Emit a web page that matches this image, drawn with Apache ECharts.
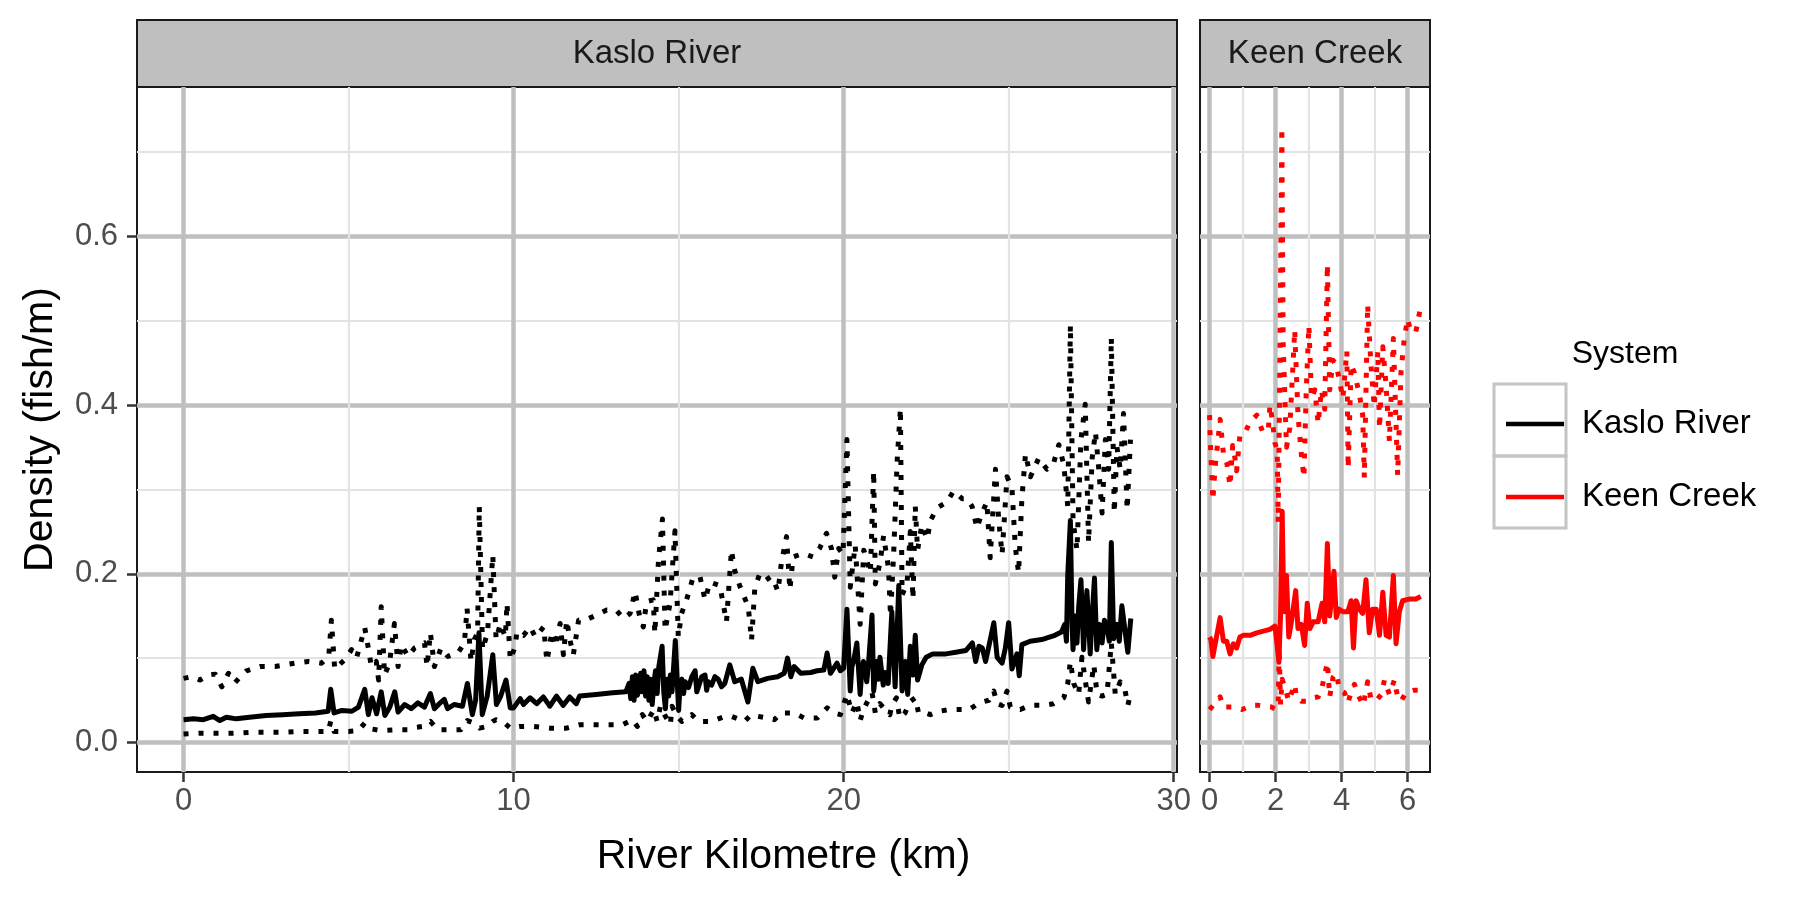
<!DOCTYPE html>
<html>
<head>
<meta charset="utf-8">
<script src="https://cdn.jsdelivr.net/npm/echarts@6/dist/echarts.min.js"></script>
<style>
html,body{margin:0;padding:0;background:#fff;}
#chart{width:1799px;height:899px;}
</style>
</head>
<body>
<div id="chart"></div>
<script>
// ---- data: [river km, density (fish/m)] ----
const panels = ['Kaslo River', 'Keen Creek'];
const kasloXTicks = [0, 10, 20, 30];
const kasloXMinor = [5, 15, 25];
const keenXTicks = [0, 2, 4, 6];
const keenXMinor = [1, 3, 5];
const yTicks = [0, 0.2, 0.4, 0.6];
const yMinor = [0.1, 0.3, 0.5, 0.7];

const kasloMedian = [[0,0.027],[0.3,0.028],[0.6,0.027],[0.9,0.031],[1.1,0.026],[1.3,0.030],[1.6,0.028],[2.0,0.030],[2.5,0.032],[3.0,0.033],[3.5,0.034],[4.0,0.035],[4.38,0.037],[4.46,0.063],[4.56,0.035],[4.8,0.038],[5.1,0.037],[5.3,0.042],[5.49,0.063],[5.6,0.033],[5.71,0.053],[5.85,0.034],[5.99,0.060],[6.1,0.032],[6.25,0.042],[6.4,0.060],[6.5,0.036],[6.7,0.045],[6.9,0.040],[7.1,0.047],[7.3,0.042],[7.48,0.058],[7.6,0.040],[7.75,0.046],[7.9,0.051],[8.0,0.040],[8.2,0.045],[8.45,0.043],[8.6,0.070],[8.75,0.033],[8.85,0.050],[8.95,0.130],[9.05,0.033],[9.2,0.055],[9.37,0.104],[9.48,0.045],[9.6,0.054],[9.77,0.074],[9.9,0.041],[10.0,0.041],[10.2,0.052],[10.3,0.045],[10.5,0.053],[10.7,0.046],[10.9,0.054],[11.1,0.043],[11.3,0.055],[11.5,0.044],[11.7,0.054],[11.9,0.046],[12.0,0.055],[12.5,0.057],[13.0,0.059],[13.4,0.060],[13.5,0.070],[13.55,0.052],[13.6,0.078],[13.65,0.050],[13.7,0.080],[13.75,0.056],[13.8,0.062],[13.85,0.082],[13.9,0.060],[13.95,0.085],[14.0,0.055],[14.05,0.078],[14.1,0.050],[14.15,0.075],[14.2,0.045],[14.25,0.070],[14.3,0.085],[14.35,0.058],[14.4,0.090],[14.5,0.114],[14.55,0.060],[14.6,0.040],[14.65,0.075],[14.7,0.055],[14.75,0.080],[14.8,0.060],[14.9,0.121],[15.0,0.038],[15.05,0.070],[15.1,0.075],[15.15,0.058],[15.2,0.072],[15.3,0.065],[15.4,0.078],[15.5,0.085],[15.55,0.060],[15.6,0.062],[15.7,0.078],[15.8,0.080],[15.85,0.062],[15.9,0.072],[16.0,0.068],[16.1,0.078],[16.2,0.075],[16.3,0.066],[16.4,0.070],[16.55,0.092],[16.7,0.072],[16.9,0.075],[17.1,0.048],[17.25,0.088],[17.4,0.072],[17.7,0.076],[18.0,0.078],[18.2,0.082],[18.3,0.100],[18.4,0.078],[18.5,0.090],[18.7,0.082],[19.0,0.083],[19.2,0.085],[19.4,0.086],[19.5,0.106],[19.6,0.082],[19.8,0.094],[19.9,0.085],[20.0,0.088],[20.1,0.158],[20.2,0.061],[20.25,0.090],[20.3,0.096],[20.4,0.118],[20.5,0.057],[20.55,0.085],[20.6,0.096],[20.7,0.072],[20.75,0.092],[20.86,0.151],[20.91,0.061],[21.0,0.096],[21.05,0.075],[21.1,0.101],[21.2,0.068],[21.25,0.083],[21.35,0.070],[21.46,0.155],[21.56,0.066],[21.67,0.186],[21.77,0.061],[21.87,0.096],[21.94,0.057],[22.02,0.114],[22.1,0.080],[22.17,0.127],[22.24,0.074],[22.37,0.092],[22.5,0.101],[22.7,0.105],[23.1,0.105],[23.4,0.107],[23.7,0.109],[23.9,0.118],[24.0,0.096],[24.1,0.114],[24.2,0.112],[24.3,0.096],[24.4,0.114],[24.55,0.142],[24.65,0.101],[24.8,0.094],[24.9,0.112],[25.0,0.142],[25.1,0.087],[25.25,0.105],[25.32,0.079],[25.4,0.116],[25.65,0.120],[26.0,0.122],[26.4,0.127],[26.6,0.131],[26.7,0.140],[26.75,0.120],[26.79,0.199],[26.87,0.263],[26.92,0.140],[26.95,0.110],[27.0,0.150],[27.07,0.118],[27.12,0.160],[27.19,0.193],[27.27,0.110],[27.32,0.150],[27.37,0.180],[27.47,0.105],[27.53,0.150],[27.6,0.195],[27.67,0.110],[27.75,0.140],[27.83,0.118],[27.9,0.145],[27.98,0.136],[28.05,0.120],[28.11,0.237],[28.18,0.123],[28.28,0.140],[28.35,0.120],[28.43,0.162],[28.53,0.131],[28.61,0.107],[28.7,0.147]];

const kasloLower = [[0,0.010],[0.5,0.011],[1.0,0.011],[1.5,0.011],[2.0,0.012],[2.5,0.012],[3.0,0.012],[3.5,0.013],[4.0,0.013],[4.38,0.013],[4.46,0.025],[4.56,0.013],[5.0,0.013],[5.3,0.014],[5.49,0.023],[5.7,0.016],[6.0,0.014],[6.4,0.015],[6.8,0.015],[7.05,0.018],[7.25,0.019],[7.48,0.025],[7.7,0.015],[8.0,0.015],[8.4,0.015],[8.6,0.026],[8.8,0.023],[8.97,0.017],[9.2,0.019],[9.37,0.025],[9.47,0.027],[9.72,0.023],[9.9,0.017],[10.2,0.019],[10.6,0.019],[11.1,0.017],[11.6,0.017],[12.0,0.021],[12.4,0.021],[12.9,0.021],[13.3,0.021],[13.6,0.027],[13.75,0.019],[13.9,0.033],[14.05,0.025],[14.25,0.039],[14.35,0.025],[14.45,0.043],[14.6,0.031],[14.75,0.021],[14.8,0.043],[14.95,0.031],[15.1,0.025],[15.4,0.033],[15.6,0.025],[16.0,0.025],[16.4,0.031],[16.6,0.031],[17.0,0.025],[17.2,0.033],[17.4,0.031],[17.7,0.029],[17.9,0.027],[18.1,0.035],[18.5,0.035],[18.8,0.029],[19.2,0.029],[19.5,0.041],[19.7,0.035],[19.9,0.033],[20.1,0.057],[20.25,0.035],[20.4,0.048],[20.5,0.026],[20.6,0.039],[20.86,0.059],[20.96,0.035],[21.1,0.046],[21.25,0.039],[21.4,0.033],[21.46,0.044],[21.6,0.053],[21.7,0.029],[21.86,0.035],[22.0,0.048],[22.17,0.053],[22.27,0.035],[22.47,0.035],[22.63,0.033],[22.9,0.037],[23.2,0.039],[23.5,0.039],[23.8,0.039],[24.0,0.044],[24.2,0.048],[24.4,0.050],[24.55,0.061],[24.65,0.046],[24.8,0.044],[24.95,0.061],[25.05,0.042],[25.35,0.039],[25.65,0.044],[26.06,0.044],[26.36,0.046],[26.67,0.053],[26.79,0.070],[26.87,0.096],[26.97,0.070],[27.12,0.057],[27.22,0.101],[27.32,0.074],[27.42,0.048],[27.58,0.092],[27.68,0.057],[27.83,0.055],[27.98,0.057],[28.11,0.118],[28.23,0.057],[28.38,0.072],[28.53,0.061],[28.61,0.044],[28.7,0.059]];

const kasloUpper = [[0,0.076],[0.25,0.078],[0.5,0.074],[0.76,0.080],[0.96,0.081],[1.16,0.066],[1.36,0.082],[1.56,0.071],[1.76,0.080],[1.91,0.085],[2.32,0.090],[2.77,0.090],[3.07,0.092],[3.37,0.094],[3.78,0.096],[4.18,0.094],[4.40,0.102],[4.48,0.145],[4.58,0.087],[4.88,0.098],[5.09,0.110],[5.24,0.100],[5.49,0.136],[5.59,0.114],[5.69,0.090],[5.84,0.096],[5.91,0.074],[5.99,0.161],[6.09,0.080],[6.24,0.094],[6.39,0.141],[6.50,0.090],[6.60,0.116],[6.80,0.102],[7.00,0.112],[7.30,0.118],[7.38,0.090],[7.48,0.130],[7.60,0.090],[7.80,0.112],[8.01,0.102],[8.31,0.106],[8.51,0.118],[8.59,0.159],[8.71,0.096],[8.81,0.122],[8.91,0.130],[8.96,0.280],[9.06,0.110],[9.21,0.130],[9.37,0.222],[9.47,0.122],[9.6,0.141],[9.75,0.125],[9.80,0.165],[9.90,0.098],[10.05,0.114],[10.10,0.131],[10.30,0.127],[10.50,0.137],[10.66,0.125],[10.91,0.137],[11.01,0.096],[11.16,0.131],[11.26,0.114],[11.41,0.141],[11.51,0.104],[11.61,0.145],[11.71,0.121],[11.81,0.104],[11.97,0.145],[12.22,0.146],[12.52,0.151],[12.82,0.157],[13.13,0.156],[13.33,0.147],[13.53,0.153],[13.68,0.179],[13.83,0.147],[13.93,0.137],[14.03,0.167],[14.23,0.169],[14.28,0.129],[14.39,0.216],[14.51,0.265],[14.59,0.133],[14.74,0.165],[14.89,0.251],[14.99,0.125],[15.09,0.153],[15.24,0.169],[15.44,0.196],[15.65,0.196],[15.80,0.169],[15.95,0.190],[16.25,0.186],[16.45,0.143],[16.60,0.228],[16.70,0.204],[16.85,0.186],[16.96,0.175],[17.11,0.161],[17.21,0.121],[17.31,0.184],[17.46,0.200],[17.61,0.200],[17.76,0.192],[17.86,0.194],[18.01,0.179],[18.11,0.212],[18.27,0.244],[18.37,0.181],[18.47,0.220],[18.77,0.224],[19.07,0.220],[19.27,0.230],[19.48,0.248],[19.63,0.230],[19.73,0.196],[19.85,0.230],[19.98,0.223],[20.1,0.359],[20.2,0.184],[20.35,0.234],[20.5,0.140],[20.61,0.228],[20.81,0.201],[20.91,0.322],[20.96,0.188],[21.11,0.215],[21.21,0.245],[21.36,0.206],[21.42,0.150],[21.52,0.228],[21.62,0.333],[21.72,0.396],[21.77,0.175],[21.92,0.188],[22.02,0.250],[22.1,0.170],[22.17,0.280],[22.24,0.228],[22.37,0.258],[22.53,0.241],[22.63,0.263],[22.83,0.278],[23.13,0.285],[23.33,0.298],[23.59,0.289],[23.74,0.289],[23.89,0.280],[24.04,0.254],[24.19,0.272],[24.34,0.285],[24.44,0.219],[24.60,0.324],[24.70,0.263],[24.80,0.223],[24.95,0.315],[25.10,0.302],[25.20,0.232],[25.30,0.201],[25.40,0.289],[25.51,0.342],[25.66,0.315],[25.91,0.337],[26.16,0.324],[26.36,0.331],[26.52,0.353],[26.67,0.329],[26.79,0.280],[26.87,0.495],[26.95,0.263],[27.07,0.228],[27.19,0.359],[27.32,0.401],[27.42,0.237],[27.53,0.337],[27.63,0.368],[27.73,0.324],[27.83,0.272],[27.93,0.359],[28.03,0.324],[28.11,0.480],[28.20,0.272],[28.28,0.350],[28.38,0.324],[28.48,0.390],[28.59,0.276],[28.69,0.359]];

const keenMedian = [[0,0.125],[0.04,0.122],[0.10,0.102],[0.17,0.117],[0.32,0.148],[0.42,0.120],[0.52,0.120],[0.62,0.105],[0.72,0.117],[0.82,0.112],[0.92,0.125],[1.03,0.127],[1.23,0.127],[1.43,0.130],[1.63,0.132],[1.83,0.134],[1.98,0.138],[2.05,0.115],[2.10,0.095],[2.15,0.150],[2.20,0.274],[2.25,0.155],[2.33,0.198],[2.40,0.125],[2.48,0.143],[2.61,0.180],[2.68,0.135],[2.78,0.140],[2.88,0.115],[2.96,0.165],[3.04,0.135],[3.14,0.143],[3.29,0.143],[3.41,0.165],[3.49,0.143],[3.57,0.236],[3.64,0.150],[3.70,0.172],[3.77,0.203],[3.84,0.148],[3.92,0.158],[4.04,0.155],[4.19,0.155],[4.29,0.168],[4.36,0.112],[4.44,0.168],[4.54,0.158],[4.64,0.153],[4.74,0.193],[4.84,0.130],[4.94,0.158],[5.05,0.158],[5.15,0.127],[5.25,0.178],[5.35,0.127],[5.45,0.125],[5.57,0.198],[5.65,0.117],[5.75,0.155],[5.85,0.168],[6.05,0.170],[6.25,0.170],[6.40,0.173]];

const keenLower = [[0,0.039],[0.32,0.054],[0.42,0.042],[0.67,0.042],[0.98,0.039],[1.28,0.044],[1.48,0.044],[1.88,0.042],[2.01,0.039],[2.08,0.049],[2.11,0.112],[2.15,0.045],[2.20,0.075],[2.33,0.059],[2.40,0.049],[2.58,0.069],[2.63,0.054],[2.78,0.049],[2.93,0.049],[3.03,0.052],[3.29,0.054],[3.39,0.062],[3.57,0.095],[3.64,0.054],[3.74,0.077],[3.84,0.082],[3.94,0.062],[4.09,0.059],[4.19,0.047],[4.29,0.059],[4.39,0.069],[4.49,0.057],[4.66,0.044],[4.79,0.072],[4.89,0.052],[5.05,0.049],[5.20,0.057],[5.30,0.074],[5.45,0.057],[5.60,0.074],[5.70,0.054],[5.80,0.049],[5.95,0.059],[6.20,0.062],[6.40,0.062]];

const keenUpper = [[0,0.388],[0.02,0.358],[0.10,0.287],[0.17,0.327],[0.32,0.383],[0.42,0.342],[0.52,0.332],[0.62,0.304],[0.70,0.352],[0.77,0.337],[0.82,0.322],[0.92,0.365],[1.08,0.368],[1.23,0.380],[1.43,0.388],[1.61,0.368],[1.78,0.370],[1.83,0.400],[1.91,0.380],[1.98,0.355],[2.05,0.347],[2.08,0.261],[2.13,0.448],[2.19,0.729],[2.23,0.474],[2.33,0.350],[2.43,0.372],[2.58,0.489],[2.68,0.388],[2.78,0.342],[2.86,0.314],[2.93,0.418],[3.01,0.494],[3.09,0.408],[3.19,0.418],[3.29,0.378],[3.39,0.418],[3.49,0.395],[3.57,0.567],[3.64,0.418],[3.74,0.453],[3.84,0.448],[3.94,0.428],[4.04,0.408],[4.16,0.464],[4.20,0.325],[4.29,0.448],[4.39,0.438],[4.54,0.413],[4.64,0.388],[4.69,0.314],[4.79,0.519],[4.89,0.448],[4.99,0.398],[5.10,0.464],[5.15,0.372],[5.25,0.469],[5.35,0.423],[5.45,0.357],[5.57,0.479],[5.70,0.317],[5.80,0.438],[5.90,0.479],[6.00,0.502],[6.10,0.487],[6.25,0.487],[6.40,0.517]];

// ---- styling / layout ----
const FONT = '"Liberation Sans", Arial, Helvetica, sans-serif';
const MAJOR = '#bfbfbf', MINOR = '#e3e3e3';
const Y_MIN = -0.035, Y_MAX = 0.777;
const G0 = {left: 137, top: 87, width: 1040, height: 685};
const G1 = {left: 1200, top: 87, width: 230, height: 685};

function majorX(grid, min, max, ticks, showLabels) {
  return {
    type: 'value', gridIndex: grid, min: min, max: max, position: 'bottom',
    axisLine: {show: false, onZero: false},
    axisTick: {show: true, inside: false, length: 10, customValues: ticks, lineStyle: {color: '#333', width: 2.5}},
    axisLabel: {show: showLabels, customValues: ticks, margin: 14, fontSize: 31, color: '#4d4d4d', fontFamily: FONT},
    splitLine: {show: true, lineStyle: {color: MAJOR, width: 4.5}}
  };
}
function minorAxis(type, grid, min, max, ticks) {
  return {
    type: 'value', gridIndex: grid, min: min, max: max,
    position: type === 'x' ? 'top' : 'right',
    axisLine: {show: false, onZero: false},
    axisTick: {show: false, customValues: ticks},
    axisLabel: {show: false, customValues: ticks},
    splitLine: {show: true, lineStyle: {color: MINOR, width: 2.2}}
  };
}
function yMajor(grid, showLabels) {
  return {
    type: 'value', gridIndex: grid, min: Y_MIN, max: Y_MAX, position: 'left',
    axisLine: {show: false, onZero: false},
    axisTick: {show: showLabels, inside: false, length: 10, customValues: yTicks, lineStyle: {color: '#333', width: 2.5}},
    axisLabel: {show: showLabels, customValues: yTicks, margin: 19, fontSize: 31, color: '#4d4d4d', fontFamily: FONT,
      formatter: v => Number(v).toFixed(1)},
    splitLine: {show: true, lineStyle: {color: MAJOR, width: 4.5}},
    name: showLabels ? 'Density (fish/m)' : '',
    nameLocation: 'middle', nameRotate: 90, nameGap: 76,
    nameTextStyle: {fontSize: 41, color: '#000', fontFamily: FONT}
  };
}

function lineSeries(name, data, xi, color, dotted, z) {
  return {
    name: name, type: 'line', data: data, xAxisIndex: xi, yAxisIndex: xi,
    symbol: 'none', showSymbol: false, silent: true, animation: false, z: z,
    lineStyle: dotted
      ? {color: color, width: 5, type: [5, 10], cap: 'butt', join: 'round'}
      : {color: color, width: 5, type: 'solid', cap: 'butt', join: 'round'}
  };
}

const chart = echarts.init(document.getElementById('chart'), null, {renderer: 'canvas'});
chart.setOption({
  backgroundColor: '#ffffff',
  animation: false,
  grid: [
    Object.assign({show: true, backgroundColor: '#fff', borderColor: '#1a1a1a', borderWidth: 2, containLabel: false}, G0),
    Object.assign({show: true, backgroundColor: '#fff', borderColor: '#1a1a1a', borderWidth: 2, containLabel: false}, G1)
  ],
  xAxis: [
    majorX(0, -1.41, 30.1, kasloXTicks, true),
    majorX(1, -0.29, 6.68, keenXTicks, true),
    minorAxis('x', 0, -1.41, 30.1, kasloXMinor),
    minorAxis('x', 1, -0.29, 6.68, keenXMinor)
  ],
  yAxis: [
    yMajor(0, true),
    yMajor(1, false),
    minorAxis('y', 0, Y_MIN, Y_MAX, yMinor),
    minorAxis('y', 1, Y_MIN, Y_MAX, yMinor)
  ],
  legend: {
    orient: 'vertical', left: 1501, top: 399,
    itemWidth: 58, itemHeight: 4.5, itemGap: 33, icon: 'rect',
    selectedMode: false,
    textStyle: {fontSize: 33, fontFamily: FONT, color: '#000', lineHeight: 40, padding: [0, 0, 0, 13]},
    data: [
      {name: panels[0], itemStyle: {color: '#000000'}},
      {name: panels[1], itemStyle: {color: '#ff0000'}}
    ]
  },
  graphic: [
    {type: 'rect', shape: {x: G0.left, y: 20, width: G0.width, height: 67},
     style: {fill: '#bfbfbf', stroke: '#1a1a1a', lineWidth: 2}},
    {type: 'text', x: G0.left + G0.width / 2, y: 54,
     style: {text: panels[0], fontSize: 33, fontFamily: FONT, fill: '#1a1a1a', align: 'center', verticalAlign: 'middle'}},
    {type: 'rect', shape: {x: G1.left, y: 20, width: G1.width, height: 67},
     style: {fill: '#bfbfbf', stroke: '#1a1a1a', lineWidth: 2}},
    {type: 'text', x: G1.left + G1.width / 2, y: 54,
     style: {text: panels[1], fontSize: 33, fontFamily: FONT, fill: '#1a1a1a', align: 'center', verticalAlign: 'middle'}},
    {type: 'text', x: (G0.left + G1.left + G1.width) / 2, y: 857,
     style: {text: 'River Kilometre (km)', fontSize: 41, fontFamily: FONT, fill: '#000', align: 'center', verticalAlign: 'middle'}},
    {type: 'text', x: 1625, y: 354,
     style: {text: 'System', fontSize: 32, fontFamily: FONT, fill: '#000', align: 'center', verticalAlign: 'middle'}},
    {type: 'rect', shape: {x: 1494, y: 384, width: 72, height: 72},
     style: {fill: 'none', stroke: '#c4c4c4', lineWidth: 3}},
    {type: 'rect', shape: {x: 1494, y: 456, width: 72, height: 72},
     style: {fill: 'none', stroke: '#c4c4c4', lineWidth: 3}}
  ],
  series: [
    lineSeries(panels[0], kasloLower, 0, '#000000', true, 3),
    lineSeries(panels[0], kasloUpper, 0, '#000000', true, 3),
    lineSeries(panels[0], kasloMedian, 0, '#000000', false, 4),
    lineSeries(panels[1], keenLower, 1, '#ff0000', true, 3),
    lineSeries(panels[1], keenUpper, 1, '#ff0000', true, 3),
    lineSeries(panels[1], keenMedian, 1, '#ff0000', false, 4)
  ]
});
</script>
</body>
</html>
